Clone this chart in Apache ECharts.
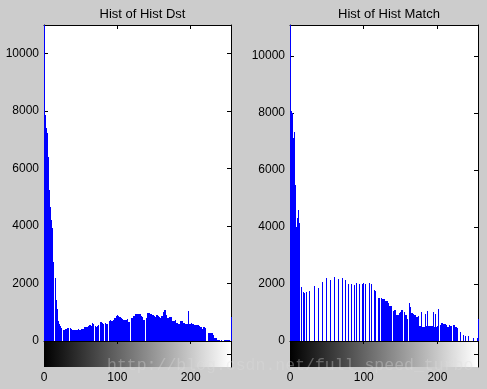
<!DOCTYPE html>
<html>
<head>
<meta charset="utf-8">
<script src="https://cdn.jsdelivr.net/npm/echarts@6/dist/echarts.min.js"></script>
<style>
html,body{margin:0;padding:0;background:#cccccc;}
#chart{width:487px;height:389px;}
</style>
</head>
<body>
<div id="chart"></div>
<script>
// Histogram bins 0..255
const binCount = 256;
const xTicks = [0, 100, 200];
const yTicks = [0, 2000, 4000, 6000, 8000, 10000];
const titles = ['Hist of Hist Dst', 'Hist of Hist Match'];
const watermark = 'http://blog.csdn.net/full_speed_turbo';

const dstHist = [
11000,7865,7600,7410,7240,6400,6100,5250,4660,4210,4100,3930,2750,0,0,2190,1430,1250,1100,700,600,560,520,450,0,0,370,370,405,400,430,450,460,455,
0,450,445,420,395,395,390,395,395,395,400,395,420,370,380,400,395,430,425,420,465,470,490,490,490,495,535,545,545,540,535,615,590,585,
0,510,505,500,535,555,550,0,625,650,645,640,600,0,0,615,570,580,575,0,675,680,720,710,695,700,730,765,810,800,880,915,870,865,
835,825,820,800,765,730,735,730,730,720,715,755,0,650,655,0,730,800,805,860,880,885,950,950,945,950,950,950,930,925,870,825,740,745,
740,0,0,800,895,965,960,965,930,930,925,905,905,860,855,825,810,915,910,870,850,845,810,870,870,875,1000,1020,1080,1075,915,850,810,815,
835,835,830,850,0,685,690,685,720,625,620,600,625,600,605,685,695,695,690,0,640,635,600,590,580,585,600,1045,580,585,615,640,600,605,
570,555,560,555,570,570,565,535,535,500,495,420,325,475,470,450,360,0,0,290,290,285,290,290,290,285,0,210,115,110,115,80,45,40,
45,10,10,25,25,10,10,45,10,45,40,45,10,45,40,0,0,825
];

const matchHist = [
11090,8070,8000,7990,7115,7350,7300,5475,4010,4305,4250,4600,4130,0,0,1895,0,1720,0,1700,0,0,1720,0,0,0,1755,0,0,0,0,0,1930,0,
0,0,0,0,1860,0,0,0,0,2070,0,0,0,0,0,2210,0,0,0,0,2140,0,0,0,0,0,2245,0,0,0,0,2175,0,0,
0,0,0,2210,0,0,0,2140,0,0,0,2000,0,0,0,2000,0,0,0,1965,0,0,2035,0,0,0,2000,0,0,2000,0,2035,0,0,
2000,0,0,0,0,2035,0,0,2000,0,0,0,1790,1755,0,0,0,0,1510,1510,0,0,1510,1475,1475,1475,1405,1405,1400,1400,0,1335,1230,1230,
0,1230,0,0,1055,1090,1090,950,925,910,910,0,985,1030,1030,1075,1100,0,0,1020,910,910,820,770,0,0,1335,1180,985,985,910,950,900,900,
855,855,855,845,880,525,525,480,1020,490,490,470,480,950,500,525,1055,525,525,525,525,525,525,490,1020,480,470,960,500,500,525,1125,0,0,
575,630,630,595,595,595,595,560,525,505,505,0,560,525,525,505,0,560,560,525,480,480,0,455,0,0,0,315,0,0,210,0,0,0,
175,0,0,0,175,0,0,0,0,0,105,0,0,0,0,105,0,770
];

const yMax = [11000, 11090];
const grayRange = [0, 255];

const FONT = '"Liberation Sans", Arial, sans-serif';
const panels = [
  {left: 44, width: 187},
  {left: 290, width: 188}
];
const histTop = 25, histH = 316, barH = 26;

function toData(arr){ return arr.map((v,i)=>[i, v]); }

function renderBar(params, api){
  const v = api.value(1);
  if (!v) return null;
  const t = api.coord([api.value(0), v]);
  const b = api.coord([api.value(0), 0]);
  const x = Math.round(t[0]);
  const y = Math.round(t[1]);
  return {type:'rect', shape:{x:x, y:y, width:1, height:Math.round(b[1]) - y}, style:{fill:'#0000ff'}};
}
function renderGrad(params, api){
  const a = api.coord([api.value(0), 1]);
  const b = api.coord([api.value(1), 0]);
  return {type:'rect', shape:{x:a[0], y:a[1], width:b[0]-a[0], height:b[1]-a[1]},
    style:{fill:{type:'linear', x:0, y:0, x2:1, y2:0, global:false,
      colorStops:[{offset:0,color:'#000000'},{offset:1,color:'#ffffff'}]}}};
}
const plainFmt = v => String(v);

const grid = [], xAxis = [], yAxis = [], series = [], title = [];
const hists = [dstHist, matchHist];
const line = {show:true, onZero:false, lineStyle:{color:'#000', width:1}};
panels.forEach((p, k) => {
  const gH = grid.length;
  grid.push({left:p.left, top:histTop, width:p.width, height:histH, containLabel:false,
    show:true, backgroundColor:'#ffffff', borderWidth:0, z:0});
  const gC = grid.length;
  grid.push({left:p.left, top:histTop+histH, width:p.width, height:barH, containLabel:false});
  title.push({text:titles[k], left:p.left + p.width/2, top:3, textAlign:'center',
    textStyle:{fontSize:13, fontWeight:'normal', color:'#000', fontFamily:FONT}});
  const xb = xAxis.length;
  xAxis.push({type:'value', gridIndex:gH, min:0, max:255, interval:100, position:'bottom', z:1,
    axisLine:line,
    axisTick:{show:true, inside:false, length:3, lineStyle:{color:'#000'}, customValues: xTicks},
    axisLabel:{show:false}, splitLine:{show:false}});
  xAxis.push({type:'value', gridIndex:gH, min:0, max:255, interval:100, position:'top', z:1,
    axisLine:line,
    axisTick:{show:true, inside:true, length:4, lineStyle:{color:'#000'}, customValues: xTicks},
    axisLabel:{show:false}, splitLine:{show:false}});
  xAxis.push({type:'value', gridIndex:gC, min:0, max:255, interval:100, position:'bottom', z:1,
    axisLine:{show:false}, axisTick:{show:false},
    axisLabel:{show:true, margin:5, fontSize:12, color:'#000', fontFamily:FONT, customValues: xTicks, formatter:plainFmt},
    splitLine:{show:false}});
  const yb = yAxis.length;
  yAxis.push({type:'value', gridIndex:gH, min:0, max:yMax[k], interval:2000, position:'left', z:1,
    axisLine:line,
    axisTick:{show:true, inside:true, length:4, lineStyle:{color:'#000'}, customValues: yTicks},
    axisLabel:{show:true, margin:5, fontSize:12, color:'#000', fontFamily:FONT, customValues: yTicks, formatter:plainFmt},
    splitLine:{show:false}});
  yAxis.push({type:'value', gridIndex:gH, min:0, max:yMax[k], interval:2000, position:'right', z:1,
    axisLine:line,
    axisTick:{show:true, inside:true, length:4, lineStyle:{color:'#000'}, customValues: yTicks},
    axisLabel:{show:false}, splitLine:{show:false}});
  yAxis.push({type:'value', gridIndex:gC, min:0, max:1, position:'right', z:1,
    axisLine:line,
    axisTick:{show:true, inside:true, length:4, lineStyle:{color:'#000'}, customValues:[0.5]},
    axisLabel:{show:false}, splitLine:{show:false}});
  series.push({type:'custom', xAxisIndex:xb, yAxisIndex:yb, data:toData(hists[k]),
    encode:{x:0, y:1}, renderItem:renderBar, silent:true, z:10});
  series.push({type:'custom', xAxisIndex:xb+2, yAxisIndex:yb+2, data:[grayRange],
    encode:{x:[0,1]}, renderItem:renderGrad, silent:true, z:0});
});

const chart = echarts.init(document.getElementById('chart'), null, {renderer:'canvas'});
chart.setOption({
  backgroundColor:'#cccccc',
  animation:false,
  title:title,
  grid:grid, xAxis:xAxis, yAxis:yAxis, series:series,
  graphic:[{type:'text', left:107, top:357, z:100, silent:true,
    style:{text:watermark, font:'16.5px "Liberation Mono", monospace', fill:'rgba(220,220,220,0.35)'}}]
});
</script>
</body>
</html>
